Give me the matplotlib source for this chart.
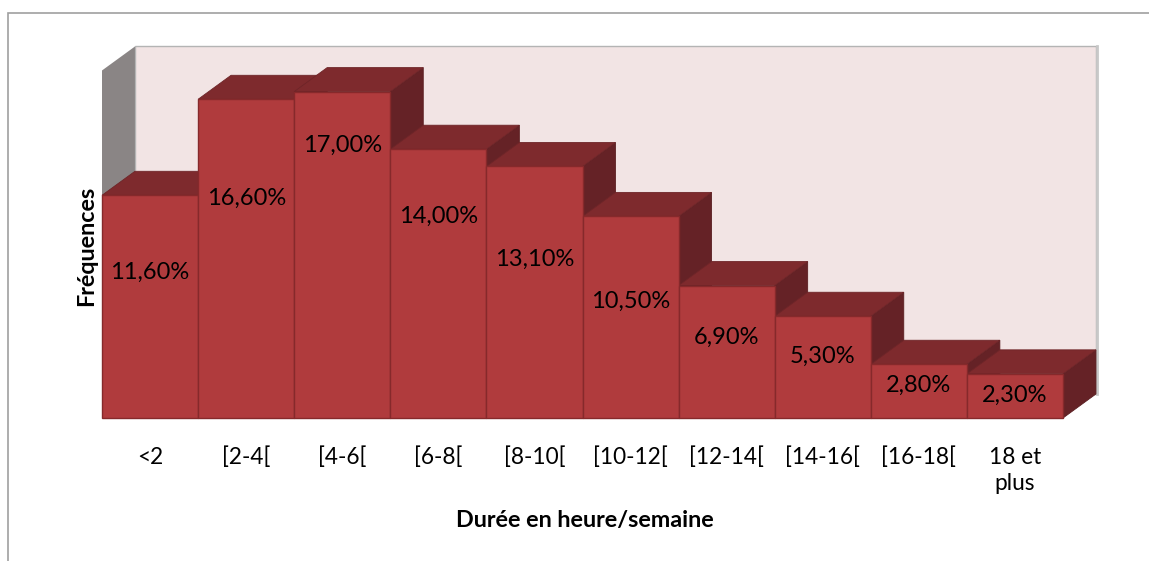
import numpy as np
import matplotlib.pyplot as plt
from matplotlib.patches import Polygon, Rectangle

plt.rcParams['font.family'] = ['Lato', 'DejaVu Sans']

# données
categories = ['<2', '[2-4[', '[4-6[', '[6-8[', '[8-10[', '[10-12[', '[12-14[', '[14-16[', '[16-18[', '18 et\nplus']
frequences = [11.6, 16.6, 17.0, 14.0, 13.1, 10.5, 6.9, 5.3, 2.8, 2.3]
etiquettes = ['11,60%', '16,60%', '17,00%', '14,00%', '13,10%', '10,50%', '6,90%', '5,30%', '2,80%', '2,30%']

# hauteur relative des étiquettes dans les barres (mise en page)
pos_etiq = [0.655, 0.69, 0.835, 0.75, 0.63, 0.58, 0.61, 0.61, 0.61, 0.52]

W, H = 1149, 561
fig = plt.figure(figsize=(W / 100, H / 100), dpi=100)
fig.patch.set_facecolor('white')

# cadre du graphique
fig.patches.append(Rectangle((8 / W, -0.1), 1.2, (H - 13) / H + 0.1, transform=fig.transFigure,
                             fill=False, edgecolor='#a0a0a0', lw=1.2))

ymax = 18.1
ax = fig.add_axes([102 / W, (H - 418) / H, 961 / W, ymax * 19.2 / H])
ax.set_xlim(-0.5, len(frequences) - 0.5)
ax.set_ylim(0, ymax)
ax.axis('off')

dx, dy = 0.343, 1.25
x0, x1 = -0.5, len(frequences) - 0.5

def poly(pts, fc, ec='none', lw=0.8, z=1):
    ax.add_patch(Polygon(pts, closed=True, facecolor=fc, edgecolor=ec, lw=lw, zorder=z, clip_on=False))

# parois
poly([(x0 + dx, dy), (x1 + dx, dy), (x1 + dx, ymax + dy), (x0 + dx, ymax + dy)], '#f2e4e4', '#b4b4b4', 1.0, 0)
ax.plot([x1 + dx + 0.012, x1 + dx + 0.012], [dy, ymax + dy], color='#c8c8c8', lw=2, zorder=0, clip_on=False)
poly([(x0, 0), (x0 + dx, dy), (x0 + dx, ymax + dy), (x0, ymax)], '#8a8585', z=0)
poly([(x0, 0), (x1, 0), (x1 + dx, dy), (x0 + dx, dy)], '#f4f4f4', z=0)

# barres 3D
for i, v in enumerate(frequences):
    a, b = i - 0.5, i + 0.5
    poly([(b, 0), (b + dx, dy), (b + dx, v + dy), (b, v)], '#652226', '#5a1e21', 0.6, 2)
    poly([(a, v), (b, v), (b + dx, v + dy), (a + dx, v + dy)], '#7e2a2d', '#6e2528', 0.6, 2)
    ax.add_patch(Rectangle((a, 0), 1, v, facecolor='#b03b3d', edgecolor='#86292b', lw=1.0, zorder=3, clip_on=False))
    ax.text(i, v * pos_etiq[i], etiquettes[i], ha='center', va='center', fontsize=17, color='black', zorder=4)

for i, c in enumerate(categories):
    ax.text(i, -1.5, c, ha='center', va='top', fontsize=16.3, linespacing=1.3)

fig.text(87 / W, 1 - 246 / H, 'Fréquences', rotation=90, ha='center', va='center',
         fontsize=16.8, fontweight='bold')
fig.text(585 / W, 1 - 521 / H, 'Durée en heure/semaine', ha='center', va='center',
         fontsize=16.8, fontweight='bold')

fig.savefig('out.png', dpi=100)
